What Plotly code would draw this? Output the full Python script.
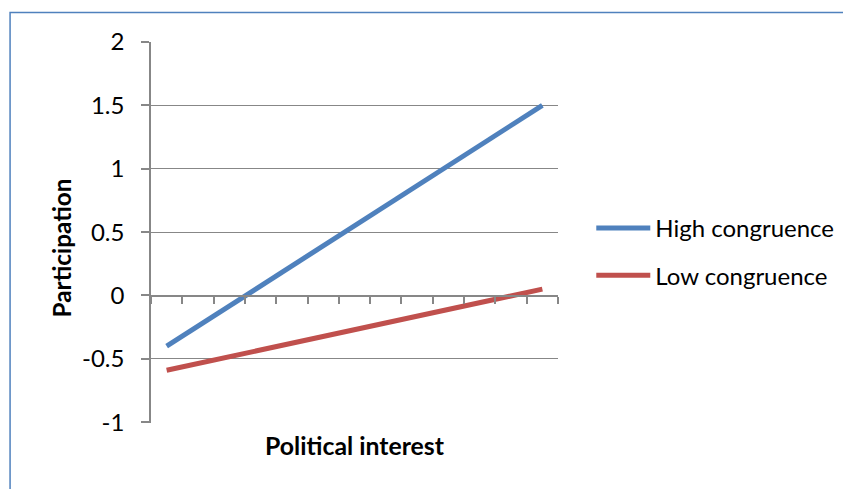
import plotly.graph_objects as go

# Data
x_positions = [1, 13]          # first and last of 13 category slots
n_categories = 13
high_congruence = [-0.40, 1.50]
low_congruence = [-0.59, 0.05]
series_names = ["High congruence", "Low congruence"]
y_tickvals = [2, 1.5, 1, 0.5, 0, -0.5, -1]
y_ticktext = ["2", "1.5", "1", "0.5", "0", "-0.5", "-1"]

# page body has an 8px default margin, so the figure is drawn from (8, 8)
OFF = 8
W, H = 851 - OFF, 489 - OFF
L = 150.5 - OFF
T = 42 - OFF
R = W - (557.7 - OFF)
B = H - (423.3 - OFF)
pw, ph = W - L - R, H - T - B

def px_x(p):  # screen x -> paper
    return (p - OFF - L) / pw

def px_y(p):  # screen y -> paper
    return 1 - (p - OFF - T) / ph

FONT = "Lato"
GRID = "#878787"
BLUE = "#4F81BD"
RED = "#C0504D"
FS = 24

fig = go.Figure()
fig.add_trace(go.Scatter(x=x_positions, y=high_congruence, mode="lines",
                         name=series_names[0], line=dict(color=BLUE, width=5),
                         legendgroup="a"))
fig.add_trace(go.Scatter(x=x_positions, y=low_congruence, mode="lines",
                         name=series_names[1], line=dict(color=RED, width=5),
                         legendgroup="b"))

fig.update_layout(
    width=W, height=H, autosize=False,
    margin=dict(l=L, r=R, t=T, b=B, pad=0, autoexpand=False),
    paper_bgcolor="white", plot_bgcolor="white",
    font=dict(family=FONT, size=FS, color="black"),
    showlegend=True,
    legend=dict(x=px_x(591), y=px_y(206), xanchor="left", yanchor="top",
                itemwidth=54, tracegroupgap=13, font=dict(size=FS),
                bgcolor="rgba(0,0,0,0)"),
    xaxis=dict(range=[0.5, n_categories + 0.5], showgrid=False, zeroline=False,
               showline=True, linecolor=GRID, linewidth=1.5,
               anchor="free", position=1 / 3,
               tickmode="array",
               tickvals=[i + 0.5 for i in range(n_categories + 1)],
               ticks="outside", ticklen=7, tickwidth=1.5, tickcolor=GRID,
               showticklabels=False),
    yaxis=dict(range=[-1.006, 2], tickmode="array", tickvals=y_tickvals,
               ticktext=y_ticktext, showgrid=True, gridcolor=GRID, gridwidth=1.3,
               zeroline=False, showline=True, linecolor=GRID, linewidth=1.5,
               ticks="outside", ticklen=8, tickwidth=1.5, tickcolor=GRID,
               ticklabelstandoff=12, tickfont=dict(size=FS)),
)

# Axis titles
fig.add_annotation(text="<b>Participation</b>", textangle=-90, showarrow=False,
                   xref="paper", yref="paper", x=px_x(61), y=px_y(248),
                   xanchor="center", yanchor="middle", font=dict(size=24.3))
fig.add_annotation(text="<b>Political interest</b>", showarrow=False,
                   xref="paper", yref="paper", x=px_x(355), y=px_y(446),
                   xanchor="center", yanchor="middle", font=dict(size=24.8))

# Chart border
fig.add_shape(type="rect", xref="paper", yref="paper",
              x0=px_x(9.5), x1=px_x(870), y0=px_y(12.5), y1=px_y(520),
              line=dict(color=BLUE, width=1.5), fillcolor="rgba(0,0,0,0)",
              layer="below")

fig.write_html("out.html")
